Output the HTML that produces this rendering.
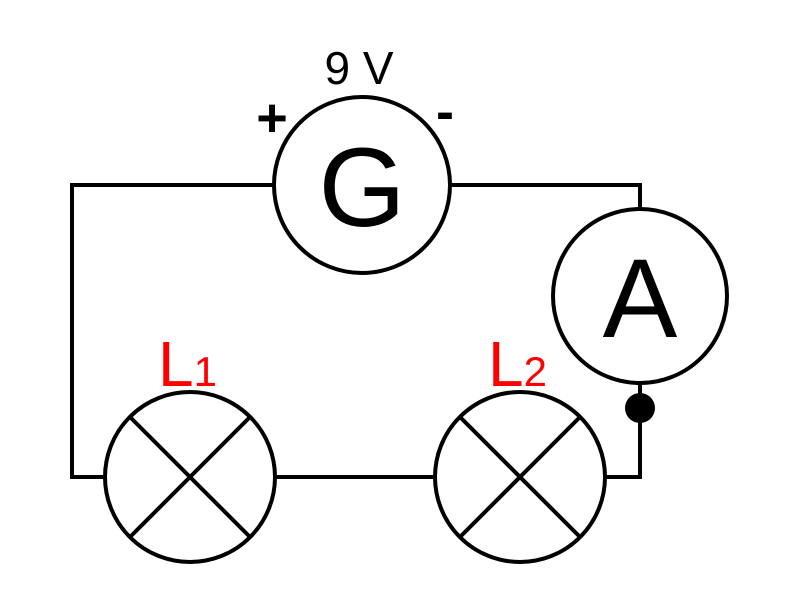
<!DOCTYPE html>
<html><head><style>body{margin:0;background:#fff}</style></head><body>
<svg width="800" height="600" xmlns="http://www.w3.org/2000/svg" font-family="Liberation Sans, Arial, sans-serif">
<g stroke="#000" stroke-width="4" fill="none">
<polyline points="274,185 72,185 72,477 105,477"/>
<polyline points="450,185 640,185 640,210"/>
<line x1="275" y1="477" x2="435" y2="477"/>
<polyline points="605,477 640,477 640,382"/>
<circle cx="362" cy="185" r="88" fill="#fff"/>
<circle cx="640" cy="296" r="87" fill="#fff"/>
<circle cx="190" cy="477" r="85" fill="#fff"/>
<circle cx="520" cy="477" r="85" fill="#fff"/>
<line x1="130" y1="417" x2="250" y2="537"/><line x1="250" y1="417" x2="130" y2="537"/>
<line x1="460" y1="417" x2="580" y2="537"/><line x1="580" y1="417" x2="460" y2="537"/>
</g>
<circle cx="640" cy="408" r="15" fill="#000"/>
<text x="359" y="84" font-size="46" text-anchor="middle">9 V</text>
<text x="272" y="136" font-size="54" font-weight="700" text-anchor="middle">+</text>
<text x="445" y="130" font-size="54" font-weight="700" text-anchor="middle">-</text>
<text x="362" y="226" font-size="112" text-anchor="middle">G</text>
<text x="640" y="337" font-size="112" text-anchor="middle">A</text>
<text x="158" y="386" font-size="64" fill="#f00">L<tspan font-size="42">1</tspan></text>
<text x="488" y="386" font-size="64" fill="#f00">L<tspan font-size="42">2</tspan></text>
</svg>
</body></html>
